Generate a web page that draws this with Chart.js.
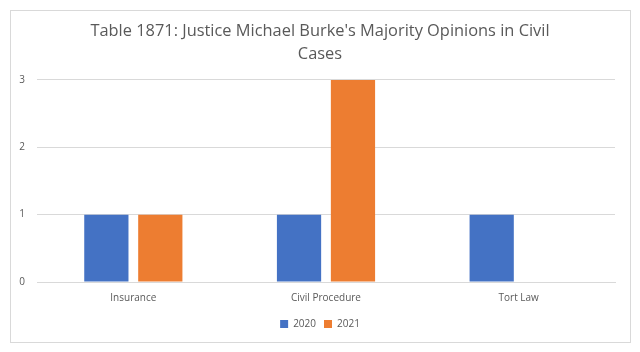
<!DOCTYPE html>
<html>
<head>
<meta charset="utf-8">
<script src="https://cdn.jsdelivr.net/npm/chart.js@4"></script>
<style>
  html, body { margin: 0; padding: 0; background: #fff; }
  #wrap { position: relative; width: 640px; height: 352px; }
  #frame { position: absolute; left: 10px; top: 10px; width: 619px; height: 331px; border: 1px solid #d9d9d9; }
  canvas { position: absolute; left: 0; top: 0; }
</style>
</head>
<body>
<div id="wrap">
  <div id="frame"></div>
  <canvas id="chart" width="640" height="352"></canvas>
</div>
<script>
const categories = ['Insurance', 'Civil Procedure', 'Tort Law'];
const values2020 = [1, 1, 1];
const values2021 = [1, 3, 0];
const yTicks = [0, 1, 2, 3];
const titleLines = ["Table 1871: Justice Michael Burke's Majority Opinions in Civil", 'Cases'];

const textColor = '#595959';
const fontFamily = "'Open Sans', 'Liberation Sans', sans-serif";

const ctx = document.getElementById('chart');
new Chart(ctx, {
  type: 'bar',
  data: {
    labels: categories,
    datasets: [
      { label: '2020', data: values2020, backgroundColor: '#4472C4' },
      { label: '2021', data: values2021, backgroundColor: '#ED7D31' }
    ]
  },
  options: {
    responsive: false,
    animation: false,
    layout: { padding: { left: 0, right: 0, top: 20, bottom: 13 } },
    datasets: { bar: { categoryPercentage: 0.56, barPercentage: 0.82 } },
    plugins: {
      title: {
        display: true,
        text: titleLines,
        color: textColor,
        font: { family: fontFamily, size: 16.4, weight: 'normal', lineHeight: 1.4 },
        padding: { top: 0, bottom: 14 }
      },
      legend: {
        position: 'bottom',
        labels: {
          color: textColor,
          font: { family: fontFamily, size: 10 },
          boxWidth: 8,
          boxHeight: 8,
          padding: 8
        }
      },
      tooltip: { enabled: false }
    },
    scales: {
      x: {
        afterFit: (axis) => { axis.height += 5; },
        grid: { display: false },
        border: { color: '#d9d9d9' },
        ticks: { color: textColor, font: { family: fontFamily, size: 10 }, padding: 2 }
      },
      y: {
        min: 0,
        max: 3,
        afterFit: (axis) => { axis.width = 37; },
        afterBuildTicks: (axis) => { axis.ticks = yTicks.map(v => ({ value: v })); },
        grid: { color: '#d9d9d9', drawTicks: false },
        border: { display: false },
        ticks: { color: textColor, font: { family: fontFamily, size: 10 }, padding: 12 }
      },
      // empty right-hand axis keeps the plot's right margin while the title stays centred on the page
      yRight: {
        position: 'right',
        min: 0,
        max: 3,
        afterFit: (axis) => { axis.width = 25; },
        grid: { display: false },
        border: { display: false },
        ticks: { display: false }
      }
    }
  }
});
</script>
</body>
</html>
